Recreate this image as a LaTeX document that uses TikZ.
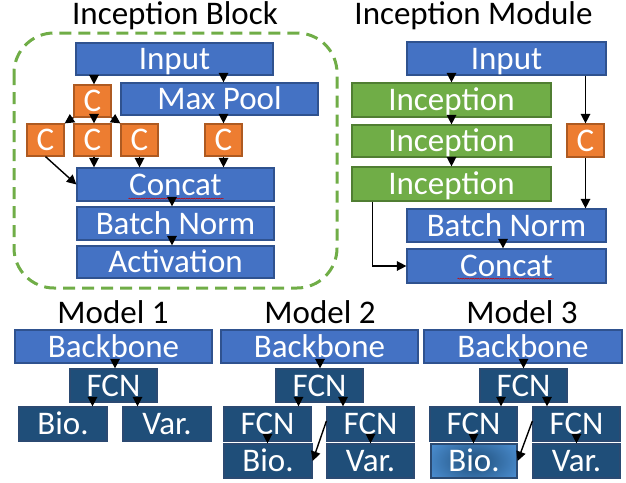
\documentclass[tikz,border=0pt]{standalone}
\usepackage{fontspec}
\setmainfont{Carlito}
\usetikzlibrary{arrows.meta,decorations.pathmorphing}
\definecolor{bfill}{HTML}{4472C4}
\definecolor{bdraw}{HTML}{2F528F}
\definecolor{dfill}{HTML}{1F4E79}
\definecolor{ddraw}{HTML}{2B4A72}
\definecolor{lfill}{HTML}{4F93D8}
\definecolor{gfill}{HTML}{70AD47}
\definecolor{gdraw}{HTML}{507E32}
\definecolor{ofill}{HTML}{ED7D31}
\definecolor{odraw}{HTML}{AE5A21}
\newcommand\mkbox[7]{\node[#1, minimum width={(#5-#3)*1pt}, minimum height={(#6-#4)*1pt}] (#2) at ({(#3+#5)/2},{(#4+#6)/2}) {#7};}
\newcommand\vlink[4]{\coordinate (tmp) at ([xshift=#4]#3.center); \draw[arr] (tmp |- #1.south) -- (tmp |- #2.north);}
\begin{document}
\begin{tikzpicture}[x=1pt,y=-1pt,
  box/.style={inner sep=0pt, text height=21pt, text depth=0pt, text=white, line width=1.2pt, font=\fontsize{33}{40}\selectfont},
  bluebox/.style={box, fill=bfill, draw=bdraw},
  darkbox/.style={box, fill=dfill, draw=ddraw},
  greenbox/.style={box, fill=gfill, draw=gdraw},
  orangebox/.style={box, fill=ofill, draw=odraw},
  glowbox/.style={box, fill=lfill, draw=ddraw, path picture={\shade[inner color=dfill, outer color=lfill] (path picture bounding box.center) ellipse [x radius=55pt, y radius=32pt];}},
  title/.style={inner sep=0pt, anchor=base, font=\fontsize{33}{40}\selectfont},
  arr/.style={line width=1.4pt, -{Triangle[length=9.5pt,width=9.5pt]}},
  squig/.style={red!80!black, line width=0.5pt, decorate, decoration={snake, amplitude=0.5pt, segment length=2.5pt}},
  frame/.style={draw=gfill, line width=3pt, dash pattern=on 12pt off 7pt, rounded corners=40pt}
]
\useasboundingbox (0,0) rectangle (626,482);

% ---- Inception Block ----
\node[title] (t1) at (175,24) {Inception Block};
\draw[frame] (14,33) rectangle (337,288);
\mkbox{bluebox}{in1}{76}{43}{273}{75}{Input}
\mkbox{orangebox}{ct}{74}{85}{111}{117}{C}
\mkbox{bluebox}{mp}{121}{83}{318}{115}{Max Pool}
\mkbox{orangebox}{c1}{27}{124}{64}{156}{C}
\mkbox{orangebox}{c2}{74}{124}{111}{156}{C}
\mkbox{orangebox}{c3}{121}{124}{158}{156}{C}
\mkbox{orangebox}{c4}{205}{124}{242}{156}{C}
\mkbox{bluebox}{cc}{77}{168}{274}{201}{Concat}
\mkbox{bluebox}{bn}{77}{207}{274}{240}{Batch Norm}
\mkbox{bluebox}{ac}{77}{246}{274}{278}{Activation}
\draw[squig] ([xshift=-47pt,yshift=3pt]cc.south) -- ([xshift=48pt,yshift=3pt]cc.south);

\vlink{in1}{ct}{ct}{1.5pt}
\vlink{in1}{mp}{c4}{0pt}
\draw[arr] (ct.south west) -- (c1.north east);
\vlink{ct}{c2}{c2}{1.5pt}
\draw[arr] (ct.south east) -- (c3.north west);
\vlink{mp}{c4}{c4}{0pt}
\draw[arr] (c1.south) -- (cc.west);
\vlink{c2}{cc}{c2}{1.5pt}
\vlink{c3}{cc}{c3}{0pt}
\vlink{c4}{cc}{c4}{0pt}
\vlink{cc}{bn}{cc}{-3.5pt}
\vlink{bn}{ac}{bn}{-3.5pt}

% ---- Inception Module ----
\node[title] (t2) at (473.5,24) {Inception Module};
\mkbox{bluebox}{in2}{407}{42}{606}{75}{Input}
\mkbox{greenbox}{i1}{352}{83}{551}{117}{Inception}
\mkbox{greenbox}{i2}{352}{125}{551}{157}{Inception}
\mkbox{greenbox}{i3}{352}{167}{551}{201}{Inception}
\mkbox{orangebox}{cm}{567}{124}{604}{157}{C}
\mkbox{bluebox}{bn2}{407}{209}{606}{242}{Batch Norm}
\mkbox{bluebox}{cm2}{407}{249}{606}{283}{Concat}
\draw[squig] ([xshift=-49pt,yshift=5pt]cm2.south) -- ([xshift=47pt,yshift=5pt]cm2.south);

\vlink{in2}{i1}{i1}{0pt}
\vlink{i1}{i2}{i1}{0pt}
\vlink{i2}{i3}{i1}{0pt}
\vlink{in2}{cm}{cm}{0pt}
\vlink{cm}{bn2}{cm}{0pt}
\vlink{bn2}{cm2}{bn2}{-3.5pt}
\coordinate (k3) at ([xshift=21pt]i3.south west);
\draw[arr] (k3) |- (cm2.west);

% ---- Model 1 ----
\node[title] (m1) at (113,323) {Model 1};
\mkbox{bluebox}{bb1}{15}{330}{212}{363}{Backbone}
\mkbox{darkbox}{f1}{70}{369}{157}{402}{FCN}
\mkbox{darkbox}{bio1}{19}{407}{107}{441}{Bio.}
\mkbox{darkbox}{var1}{123}{407}{211}{441}{Var.}
\vlink{bb1}{f1}{f1}{1.5pt}
\vlink{f1}{bio1}{f1}{-21pt}
\vlink{f1}{var1}{f1}{24pt}

% ---- Model 2 ----
\node[title] (m2) at (320,323) {Model 2};
\mkbox{bluebox}{bb2}{221}{330}{418}{363}{Backbone}
\mkbox{darkbox}{f2}{276}{369}{363}{402}{FCN}
\mkbox{darkbox}{f2a}{224}{407}{311}{441}{FCN}
\mkbox{darkbox}{f2b}{327}{407}{414}{441}{FCN}
\mkbox{darkbox}{bio2}{224}{444}{312}{478}{Bio.}
\mkbox{darkbox}{var2}{327}{444}{414}{478}{Var.}
\vlink{bb2}{f2}{f2}{0.5pt}
\vlink{f2}{f2a}{f2}{-21pt}
\vlink{f2}{f2b}{f2}{23.5pt}
\vlink{f2a}{bio2}{f2a}{0pt}
\vlink{f2b}{var2}{f2b}{0pt}
\draw[arr] ([yshift=3pt]f2b.west) -- (bio2.east);

% ---- Model 3 ----
\node[title] (m3) at (522,323) {Model 3};
\mkbox{bluebox}{bb3}{424}{330}{622}{363}{Backbone}
\mkbox{darkbox}{f3}{480}{369}{567}{402}{FCN}
\mkbox{darkbox}{f3a}{430}{407}{517}{441}{FCN}
\mkbox{darkbox}{f3b}{533}{407}{620}{441}{FCN}
\mkbox{glowbox}{bio3}{431}{444}{517}{478}{Bio.}
\mkbox{darkbox}{var3}{533}{444}{620}{478}{Var.}
\vlink{bb3}{f3}{f3}{0pt}
\vlink{f3}{f3a}{f3}{-22.5pt}
\vlink{f3}{f3b}{f3}{23.5pt}
\vlink{f3a}{bio3}{f3a}{0pt}
\vlink{f3b}{var3}{f3b}{0pt}
\draw[arr] ([yshift=3pt]f3b.west) -- (bio3.east);
\end{tikzpicture}
\end{document}
